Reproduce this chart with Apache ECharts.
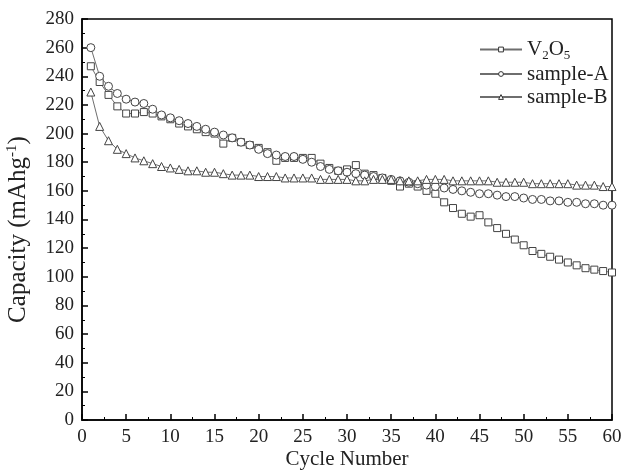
<!DOCTYPE html>
<html><head><meta charset="utf-8">
<script src="https://cdn.jsdelivr.net/npm/echarts@6/dist/echarts.min.js"></script>
<style>html,body{margin:0;padding:0;background:#fff}#c{width:626px;height:470px}</style>
</head><body><div id="c"></div>
<script>
const cycles = Array.from({length:60},(_,i)=>i+1);
const v2o5 = [247,236,227,219,214,214,215,214,212,210,207,205,203,201,200,193,197,194,192,190,187,181,183,183,183,183,179,176,174,175,178,172,171,169,167,163,165,163,160,158,152,148,144,142,143,138,134,130,126,122,118,116,114,112,110,108,106,105,104,103];
const sampleA = [260,240,233,228,224,222,221,217,213,211,209,207,205,203,201,199,197,194,192,189,186,185,184,184,182,180,177,175,174,173,172,171,170,169,168,167,166,165,164,163,162,161,160,159,158,158,157,156,156,155,154,154,153,153,152,152,151,151,150,150];
const sampleB = [229,205,195,189,186,183,181,179,177,176,175,174,174,173,173,172,171,171,171,170,170,170,169,169,169,169,168,168,168,168,167,167,168,168,168,167,167,167,168,168,168,167,167,167,167,167,166,166,166,166,165,165,165,165,165,164,164,164,163,163];
const xTicks = {min:0,max:60,interval:5};
const yTicks = {min:0,max:280,interval:20};
const names = ['V2O5','sample-A','sample-B'];

const font = 'Liberation Serif';
const lineColor = '#6e6e6e';
const markColor = '#444';
function mk(name, data, sym, size){
  return {name, type:'line', data: cycles.map((c,i)=>[c,data[i]]), symbol:sym, symbolSize:size,
    showAllSymbol:true,
    lineStyle:{color:lineColor,width:1},
    itemStyle:{color:'#fff',borderColor:markColor,borderWidth:1},
    emphasis:{disabled:true}};
}
const chart = echarts.init(document.getElementById('c'));
chart.setOption({
  animation:false,
  backgroundColor:'#fff',
  grid:{left:82,right:14,top:19,bottom:50,outerBoundsMode:'none',containLabel:false,show:true,borderColor:'#000',borderWidth:1.5,backgroundColor:'transparent'},
  legend:{
    left:474, top:32, orient:'vertical', itemGap:1, itemWidth:42, itemHeight:6,
    data: names,
    itemStyle:{color:'#fff',borderColor:'#333',borderWidth:1},
    textStyle:{fontFamily:font,fontSize:21,color:'#222',lineHeight:22,
      rich:{n:{fontFamily:font,fontSize:21,color:'#222',lineHeight:22},s:{fontFamily:font,fontSize:13,color:'#222',padding:[12,0,0,0],lineHeight:22}}},
    formatter: n => n==='V2O5' ? '{n|V}{s|2}{n|O}{s|5}' : n
  },
  xAxis:{type:'value',min:xTicks.min,max:xTicks.max,interval:xTicks.interval,
    name:'Cycle Number',nameLocation:'middle',nameGap:29,nameMoveOverlap:false,
    nameTextStyle:{fontFamily:font,fontSize:21,color:'#222'},
    axisLine:{lineStyle:{color:'#000',width:1.5}},
    axisTick:{inside:true,length:6,lineStyle:{color:'#000',width:1.5}},
    minorTick:{show:true,splitNumber:2,length:3,lineStyle:{color:'#000',width:1}},
    splitLine:{show:false},
    axisLabel:{fontFamily:font,fontSize:19,color:'#222',margin:8}},
  yAxis:{type:'value',min:yTicks.min,max:yTicks.max,interval:yTicks.interval,
    name:'{n|Capacity (mAhg}{s|-1}{n|)}',nameLocation:'middle',nameGap:50,nameMoveOverlap:false,
    nameTextStyle:{fontFamily:font,fontSize:25,color:'#222',padding:[0,20,0,0],
      rich:{n:{fontFamily:font,fontSize:25,color:'#222'},s:{fontFamily:font,fontSize:15,color:'#222',padding:[0,0,12,0]}}},
    axisLine:{lineStyle:{color:'#000',width:1.5}},
    axisTick:{inside:true,length:6,lineStyle:{color:'#000',width:1.5}},
    minorTick:{show:true,splitNumber:2,length:3,lineStyle:{color:'#000',width:1}},
    splitLine:{show:false},
    axisLabel:{fontFamily:font,fontSize:19,color:'#222',margin:8}},
  series:[
    mk('V2O5', v2o5, 'rect', 7),
    mk('sample-A', sampleA, 'circle', 8),
    mk('sample-B', sampleB, 'triangle', 8)
  ]
});
</script></body></html>
